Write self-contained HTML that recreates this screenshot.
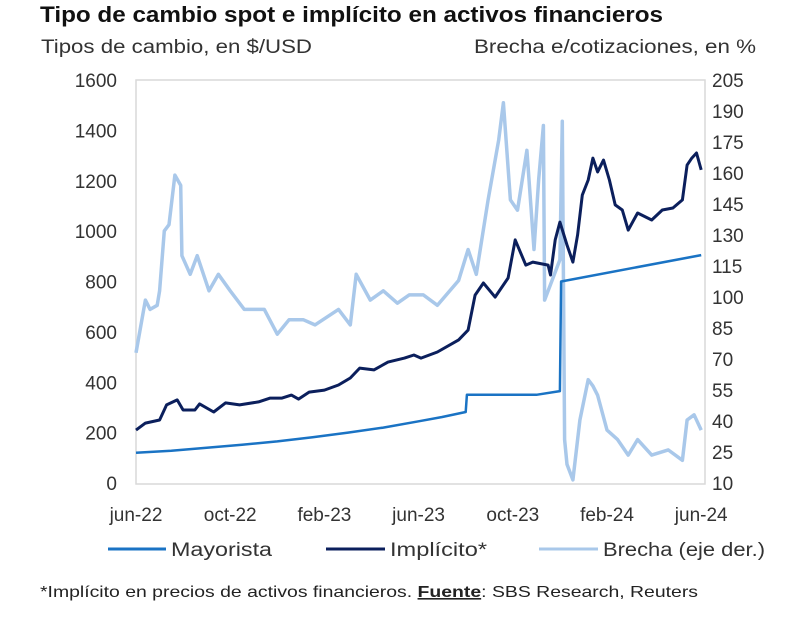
<!DOCTYPE html>
<html><head><meta charset="utf-8"><style>
body{margin:0;background:#fff;}
svg{display:block;font-family:"Liberation Sans",sans-serif;}
</style></head><body>
<svg width="800" height="618" viewBox="0 0 800 618">
<text x="40" y="22" font-size="22" font-weight="bold" fill="#111" textLength="623" lengthAdjust="spacingAndGlyphs">Tipo de cambio spot e implícito en activos financieros</text>
<text x="41" y="53" font-size="19" fill="#333" textLength="271" lengthAdjust="spacingAndGlyphs">Tipos de cambio, en $/USD</text>
<text x="474" y="53" font-size="19" fill="#333" textLength="282" lengthAdjust="spacingAndGlyphs">Brecha e/cotizaciones, en %</text>
<rect x="136" y="80" width="569" height="404" fill="none" stroke="#d9d9d9" stroke-width="1.5"/>
<g id="ticks"></g>
<g id="series"></g>
<g>
<line x1="108" y1="549" x2="166" y2="549" stroke="#1a73c4" stroke-width="3"/>
<text x="171" y="556" font-size="19" fill="#333" textLength="101" lengthAdjust="spacingAndGlyphs">Mayorista</text>
<line x1="326" y1="549" x2="385" y2="549" stroke="#0b1f5c" stroke-width="3"/>
<text x="390" y="556" font-size="19" fill="#333" textLength="97" lengthAdjust="spacingAndGlyphs">Implícito*</text>
<line x1="539" y1="549" x2="598" y2="549" stroke="#a9c8ea" stroke-width="3"/>
<text x="603" y="556" font-size="19" fill="#333" textLength="162" lengthAdjust="spacingAndGlyphs">Brecha (eje der.)</text>
</g>
<text x="40" y="597" font-size="16" fill="#222" textLength="658" lengthAdjust="spacingAndGlyphs">*Implícito en precios de activos financieros. <tspan font-weight="bold" text-decoration="underline">Fuente</tspan>: SBS Research, Reuters</text>
</svg>
<script>
const leftTicks=[0,200,400,600,800,1000,1200,1400,1600];
const rightTicks=[10,25,40,55,70,85,100,115,130,145,160,175,190,205];
const xLabels=["jun-22","oct-22","feb-23","jun-23","oct-23","feb-24","jun-24"];
const xLabelMonths=[0,4,8,12,16,20,24];
const mayoristaMonths=[0,1.5,3,4.5,6,7.5,9,10.5,12,13,14,14.05,17,18,18.05,24];
const mayoristaValues=[120,128,140,152,165,182,200,220,245,262,282,350,350,365,800,905];
const implicitoMonths=[0,0.4,1,1.3,1.75,2,2.5,2.7,3.3,3.8,4.4,5.2,5.7,6.2,6.6,6.9,7.35,8,8.6,9.1,9.5,10.1,10.7,11.4,11.8,12.1,12.8,13.7,14.1,14.4,14.75,15.25,15.8,16.1,16.55,16.85,17.5,17.6,17.8,18,18.3,18.55,18.75,18.95,19.2,19.4,19.6,19.85,20.1,20.35,20.65,20.9,21.3,21.9,22.35,22.8,23.2,23.4,23.6,23.8,24];
const implicitoValues=[210,238,250,310,330,290,290,314,282,318,310,322,337,337,349,333,361,369,389,417,456,449,480,496,508,496,520,568,607,746,794,738,814,965,865,877,865,826,965,1036,945,877,985,1143,1203,1290,1235,1282,1203,1104,1084,1004,1072,1044,1084,1092,1124,1262,1290,1310,1243];
const brechaMonths=[0,0.4,0.6,0.9,1,1.2,1.4,1.65,1.9,1.95,2.3,2.6,3.1,3.5,4,4.6,5.45,6,6.5,7.1,7.6,8.6,9.1,9.35,9.95,10.5,11.1,11.6,12.2,12.8,13.7,14.1,14.45,14.95,15.4,15.6,15.9,16.2,16.6,16.9,17.1,17.3,17.35,18,18.1,18.2,18.3,18.55,18.85,19.2,19.4,19.6,20,20.45,20.9,21.3,21.9,22.6,23.2,23.4,23.7,24];
const brechaValues=[73,98.5,94,96,103,132,135,159,154,120,111,120,103,111,103,94,94,82,89,89,86.5,94,86.5,111,98.5,103,97,101,101,96,108,123,111,147,176,194,147,142,171,123,157,183,98.5,118,185,31,19,11.5,40.5,60,57,52.5,35.6,31,23.5,31,23.5,26,21,40.5,43,35.6];

const NS="http://www.w3.org/2000/svg";
const x=m=>136+m*23.55;
const yL=v=>483-v*403/1600;
const yR=v=>483-(v-10)*403/195;
function mk(tag,attrs,parent){const e=document.createElementNS(NS,tag);for(const k in attrs)e.setAttribute(k,attrs[k]);parent.appendChild(e);return e;}
const tg=document.getElementById('ticks');
leftTicks.forEach(v=>{const t=mk('text',{x:117,y:yL(v)+7,'font-size':19,fill:'#333','text-anchor':'end'},tg);t.textContent=v;

});
rightTicks.forEach(v=>{const t=mk('text',{x:712,y:yR(v)+7,'font-size':19,fill:'#333'},tg);t.textContent=v;

});
xLabels.forEach((s,i)=>{const t=mk('text',{x:x(xLabelMonths[i]),y:521,'font-size':19,fill:'#333','text-anchor':'middle'},tg);t.textContent=s;

});
const sg=document.getElementById('series');
function line(ms,vs,yf,color,w,name){const d=ms.map((m,i)=>(i?'L':'M')+x(m).toFixed(1)+' '+yf(vs[i]).toFixed(1)).join(' ');
const p=mk('path',{d:d,fill:'none',stroke:color,'stroke-width':w,'stroke-linejoin':'round'},sg);

}
line(brechaMonths,brechaValues,yR,'#a9c8ea',3.5,'brecha-line');
line(mayoristaMonths,mayoristaValues,yL,'#1a73c4',2.5,'mayorista-line');
line(implicitoMonths,implicitoValues,yL,'#0b1f5c',3,'implicito-line');
</script>
</body></html>
